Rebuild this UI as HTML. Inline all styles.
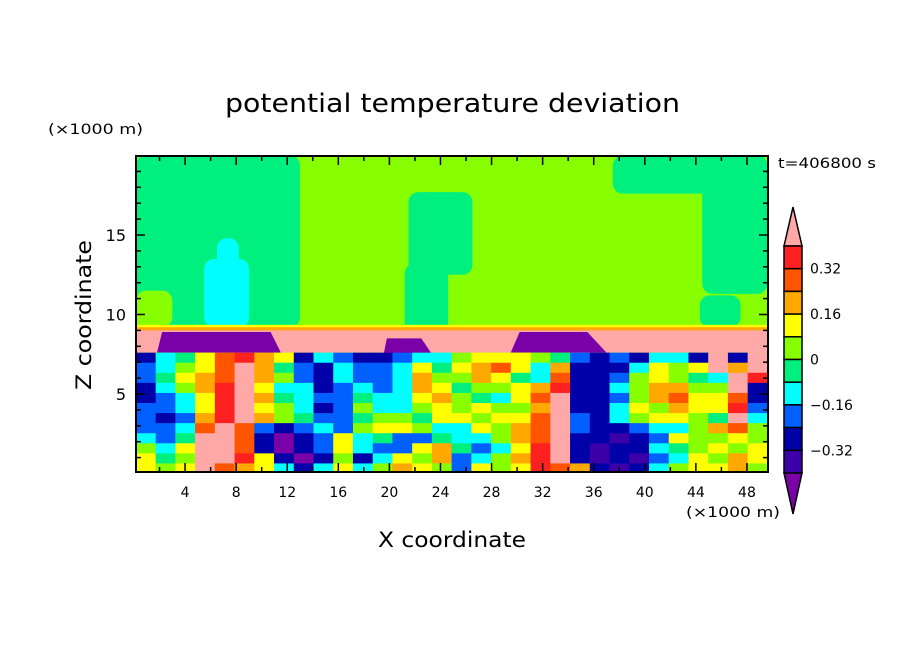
<!DOCTYPE html>
<html><head><meta charset="utf-8">
<style>
html,body{margin:0;padding:0;background:#fff;}
svg{display:block;font-family:"DejaVu Sans","Liberation Sans",sans-serif;}
</style></head>
<body>
<svg id="chart" width="904" height="654" viewBox="0 0 904 654">
  <text x="225" y="112" font-size="26" textLength="455" lengthAdjust="spacingAndGlyphs">potential temperature deviation</text>
  <text x="48" y="134" font-size="14" textLength="95" lengthAdjust="spacingAndGlyphs">(×1000 m)</text>
  <text x="778" y="168" font-size="14" textLength="98" lengthAdjust="spacingAndGlyphs">t=406800 s</text>
  <text x="378" y="547" font-size="21" textLength="148" lengthAdjust="spacingAndGlyphs">X coordinate</text>
  <text transform="translate(91,390) rotate(-90)" font-size="21" textLength="150" lengthAdjust="spacingAndGlyphs">Z coordinate</text>
  <text x="686" y="517" font-size="14" textLength="94" lengthAdjust="spacingAndGlyphs">(×1000 m)</text>
  <defs><clipPath id="plotclip"><rect x="136" y="156" width="632" height="316"/></clipPath></defs>
  <g id="field" clip-path="url(#plotclip)"></g>
  <g id="axes"></g>
  <g id="colorbar"></g>
</svg>
<script>
const levelCodes = "PINBCGLYORDK";
const levelColors = ["#7a00a8","#3c00a8","#0000a8","#0060ff","#00ffff","#00f080","#88ff00","#ffff00","#ffa800","#ff5500","#ff2020","#ffa8a8"];
const colorbarLabels = ["0.32","0.16","0","-0.16","-0.32"];
const xTicks = [4,8,12,16,20,24,28,32,36,40,44,48];
const yTicks = [5,10,15];
// lower turbulent layer: 12 rows (top to bottom, z 7.6..0), 32 columns
const gridRows = [
"NCGYRDOYNCBNNBCCLYYYLGBNBNCCNKNK",
"BCLYRKOGBNCBBCYGYORYCONNNCYLYKOK",
"BGYORKOLBNCBBCOLLOYGCRNNBLYLGCKD",
"NCLODKYCCNBCBCOYGLLYODNNCLOOLLKN",
"NBCYDKOGCBBGCCYOLGCYRKNNBLORYYRN",
"BBCYDKYLCNBLCCLYLYLLOKNNCYLOYYDB",
"BNBODKOLGBBGLLGYYLYYRKBNCLYYLGKC",
"BBCRKRBNBCBLYYLCCYLORKBNNBCCLORL",
"CBGKKRNPNBYCGBBGCCLORKNNINBYLLYL",
"LCYKKRNPNBYCBBYOGBCYDKNINNCGLYLY",
"YGLKKDYNPNLNCYLOBCLODKNINIBCYLOY",
"YLYKROYCNCYCLOYLBYLYDRONINCLYYOL"];
const gridZTop = 7.6, gridZBottom = 0, xMin = 0.15, xMax = 49.6;
// upper layer patches: [x0,x1,z0,z1,level]
const upperPatches = [
 [0.15,13.0,9.2,20,5],[0.15,3.0,9.2,11.5,6],[13,22,9.2,20,6],
 [21.5,26.5,12.5,17.7,5],[21.2,24.6,8.6,13.2,5],[37.5,49.6,17.6,20,5],
 [44.5,49.6,11.3,20,5],[44.3,47.5,9.2,11.2,5],
 [5.5,9.0,9.2,13.5,4],[6.5,8.2,13,14.8,4]];
const inversion = [[0.15,49.6,7.6,9.2,11],[0.15,49.6,9.0,9.25,8],[0.15,49.6,9.2,9.35,7]];
// purple blobs: [x0 bottom, x1 bottom, x0 top, x1 top, zBottom, zTop]
const blobs = [[1.8,11.5,2.2,10.7,7.6,8.9],[19.5,23.5,19.8,22.5,7.3,8.5],[29.5,37,30.2,35.5,7.6,8.9]];

const NS="http://www.w3.org/2000/svg";
const xs = v => 134 + 12.77*v;
const ys = z => 473.5 - 15.9*z;
const field = document.getElementById('field');
function rect(parent,x,y,w,h,fill){const r=document.createElementNS(NS,'rect');r.setAttribute('x',x);r.setAttribute('y',y);r.setAttribute('width',w);r.setAttribute('height',h);r.setAttribute('fill',fill);parent.appendChild(r);return r;}
const bg = rect(field,136,156,632,316,levelColors[6]);


upperPatches.forEach(p=>{
  const r=rect(field,xs(p[0]),ys(p[3]),xs(p[1])-xs(p[0]),ys(p[2])-ys(p[3]),levelColors[p[4]]);
  r.setAttribute('rx',10);
  
  
});
inversion.forEach(p=>{
  const r=rect(field,xs(p[0]),ys(p[3]),xs(p[1])-xs(p[0]),ys(p[2])-ys(p[3]),levelColors[p[4]]);
  
  
});
blobs.forEach(b=>{
  const pg=document.createElementNS(NS,'polygon');
  pg.setAttribute('points',`${xs(b[0])},${ys(b[4])} ${xs(b[1])},${ys(b[4])} ${xs(b[3])},${ys(b[5])} ${xs(b[2])},${ys(b[5])}`);
  pg.setAttribute('fill',levelColors[0]);
  
  
  field.appendChild(pg);
});
const nRows=gridRows.length, nCols=gridRows[0].length;
const dz=(gridZTop-gridZBottom)/nRows, dx=(xMax-xMin)/nCols;
gridRows.forEach((row,i)=>{
  for(let j=0;j<nCols;j++){
    const lv=levelCodes.indexOf(row[j]);
    const x0=xs(xMin+j*dx), x1=xs(xMin+(j+1)*dx);
    const y0=ys(gridZTop-i*dz), y1=ys(gridZTop-(i+1)*dz);
    const r=rect(field,x0,y0,x1-x0+0.5,y1-y0+0.5,levelColors[lv]);
    
    
  }
});
// axes
const axes=document.getElementById('axes');
function line(x1,y1,x2,y2,w){const l=document.createElementNS(NS,'line');l.setAttribute('x1',x1);l.setAttribute('y1',y1);l.setAttribute('x2',x2);l.setAttribute('y2',y2);l.setAttribute('stroke','#000');l.setAttribute('stroke-width',w);axes.appendChild(l);return l;}
for(let v=2;v<=48;v+=2){
  const major=v%4===0, len=major?9:5, x=xs(v);
  line(x,472,x,472-len,1.5); line(x,156,x,156+len,1.5);
}
for(let z=1;z<=19;z++){
  const major=z%5===0, len=major?9:5, y=ys(z);
  line(136,y,136+len,y,1.5); line(768,y,768-len,y,1.5);
}
xTicks.forEach(v=>{
  const t=document.createElementNS(NS,'text');
  t.setAttribute('x',xs(v));t.setAttribute('y',497);t.setAttribute('text-anchor','middle');t.setAttribute('font-size','14');
  t.textContent=v;
  
  
  axes.appendChild(t);
});
yTicks.forEach(v=>{
  const t=document.createElementNS(NS,'text');
  t.setAttribute('x',126);t.setAttribute('y',ys(v)+6);t.setAttribute('text-anchor','end');t.setAttribute('font-size','16');
  t.textContent=v;
  
  
  axes.appendChild(t);
});
const frame=document.createElementNS(NS,'rect');
frame.setAttribute('x',136);frame.setAttribute('y',156);frame.setAttribute('width',632);frame.setAttribute('height',316);
frame.setAttribute('fill','none');frame.setAttribute('stroke','#000');frame.setAttribute('stroke-width','2');


axes.appendChild(frame);
// colorbar
const cb=document.getElementById('colorbar');
const cbX=784, cbW=18, cbTop=246, cbBot=473, nBox=10, bh=(cbBot-cbTop)/nBox;
const tri1=document.createElementNS(NS,'polygon');
tri1.setAttribute('points',`${cbX},${cbTop} ${cbX+cbW},${cbTop} ${cbX+cbW/2},207`);
tri1.setAttribute('fill',levelColors[11]);tri1.setAttribute('stroke','#000');tri1.setAttribute('stroke-width','1.5');


cb.appendChild(tri1);
const tri2=document.createElementNS(NS,'polygon');
tri2.setAttribute('points',`${cbX},${cbBot} ${cbX+cbW},${cbBot} ${cbX+cbW/2},514`);
tri2.setAttribute('fill',levelColors[0]);tri2.setAttribute('stroke','#000');tri2.setAttribute('stroke-width','1.5');


cb.appendChild(tri2);
for(let k=0;k<nBox;k++){
  const r=rect(cb,cbX,cbTop+k*bh,cbW,bh,levelColors[10-k]);
  r.setAttribute('stroke','#000');r.setAttribute('stroke-width','1.5');
  
  
}
colorbarLabels.forEach((s,k)=>{
  const t=document.createElementNS(NS,'text');
  t.setAttribute('x',810);t.setAttribute('y',cbTop+(1+2*k)*bh+5);t.setAttribute('font-size','14');
  t.textContent=s.replace('-','\u2212');
  
  
  cb.appendChild(t);
});
</script>
</body></html>
